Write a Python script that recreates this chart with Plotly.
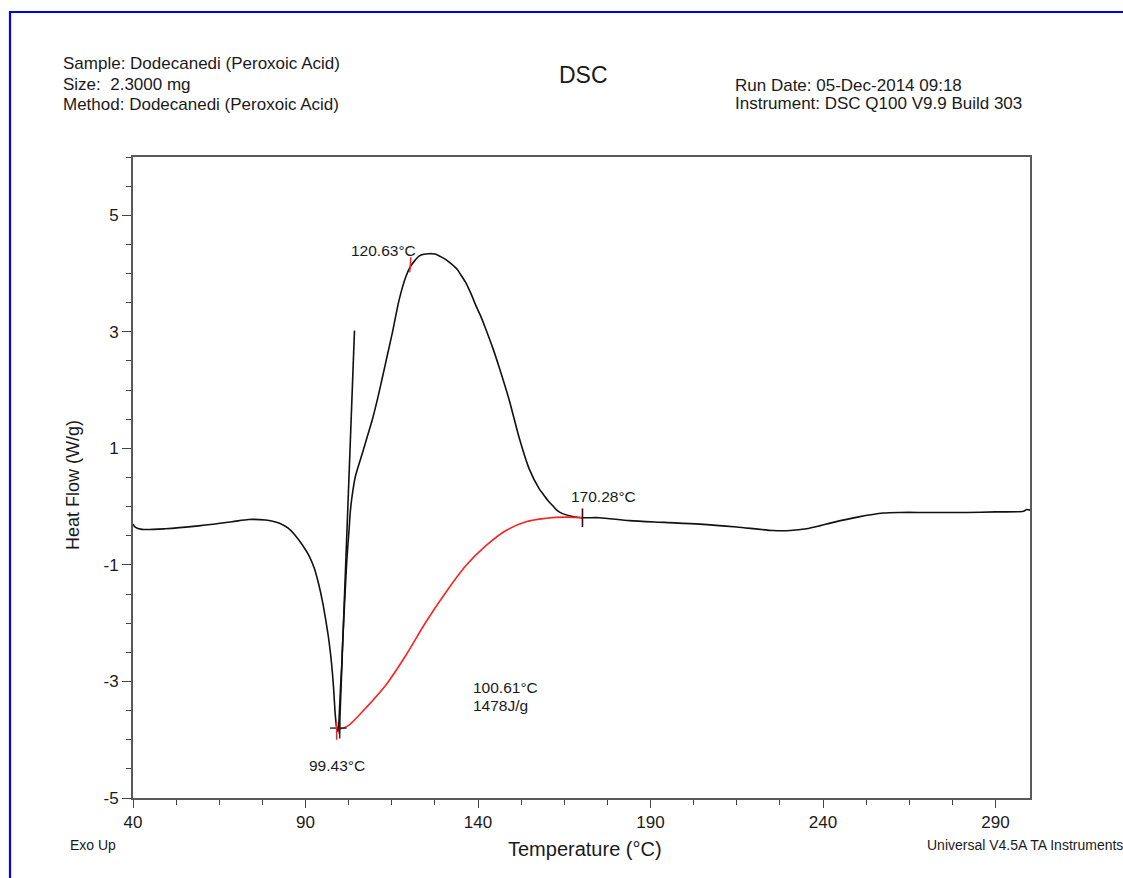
import plotly.graph_objects as go

# ---------------- data ----------------
temp = [40, 40.6, 42.6, 49.4, 59.0, 68.7, 73.5, 78.4, 80.5, 82.3, 85.0, 87.1, 89.0, 91.0,
        92.5, 93.9, 95.0, 95.8, 96.6, 97.3, 97.8, 98.2, 98.6, 99.0, 99.43, 99.8, 100.2,
        100.6, 100.65, 101.0, 101.5, 102.0, 102.6, 103.0, 103.5, 104.5, 106.5, 108.0,
        109.4, 111.0, 112.3, 113.8, 115.2, 117.1, 119.1, 120.5, 121.8, 122.9, 124.3, 125.8,
        126.8, 127.8, 129.2, 130.7, 132.2, 134.0, 135.0, 136.5, 138.0, 139.4, 141.0,
        142.3, 144.3, 146.2, 149.0, 152.0, 154.9, 157.8, 158.7, 160.2, 161.6, 163.0,
        164.5, 167.4, 170.2, 175.2, 183.9, 194.0, 204.2, 215.0, 225.5, 230.5, 235.2,
        239.0, 243.0, 250.0, 257.5, 262.3, 270.0, 281.7, 290.0, 298.1, 299.0, 300.0]
heat_flow = [-0.30, -0.35, -0.39, -0.38, -0.33, -0.26, -0.22, -0.23, -0.25, -0.28, -0.37,
             -0.50, -0.65, -0.84, -1.05, -1.35, -1.65, -1.92, -2.22, -2.55, -2.85, -3.17,
             -3.55, -3.78, -3.86, -3.55, -3.05, -2.62, -2.50, -2.05, -1.45, -0.90, -0.42,
             -0.08, 0.18, 0.53, 0.92, 1.22, 1.50, 1.88, 2.22, 2.62, 2.99, 3.54, 3.95, 4.13,
             4.23, 4.30, 4.33, 4.34, 4.34, 4.33, 4.29, 4.24, 4.17, 4.07, 3.98, 3.84, 3.65,
             3.45, 3.24, 3.04, 2.72, 2.38, 1.84, 1.17, 0.64, 0.30, 0.23, 0.11, 0.02, -0.07,
             -0.12, -0.17, -0.19, -0.19, -0.24, -0.27, -0.30, -0.35, -0.41, -0.41, -0.38,
             -0.33, -0.27, -0.18, -0.11, -0.10, -0.10, -0.10, -0.09, -0.08, -0.05, -0.06]

tangent_temp = [99.8, 104.2]
tangent_flow = [-3.90, 3.02]

base_temp = [99.6, 101.0, 102.6, 107.4, 113.3, 119.1, 124.9, 130.7, 136.5, 142.3, 148.1,
             153.9, 159.7, 165.5, 170.2]
base_flow = [-3.82, -3.80, -3.75, -3.46, -3.06, -2.55, -1.98, -1.47, -1.01, -0.67, -0.41,
             -0.26, -0.20, -0.18, -0.19]

peak_min_temp, peak_min_flow = 99.43, -3.80
peak_max_temp, peak_max_flow = 120.63, 4.15
end_temp, end_flow = 170.28, -0.19
onset_label = "100.61°C"
enthalpy_label = "1478J/g"

x_ticks = [40, 90, 140, 190, 240, 290]
y_ticks = [-5, -3, -1, 1, 3, 5]
y_tick_text = ["-5", "-3", "-1", "1", "3", "5"]

FONT = "Liberation Sans, Arial, sans-serif"

fig = go.Figure()
fig.add_trace(go.Scatter(x=temp, y=heat_flow, mode="lines",
                         line=dict(color="#111111", width=1.6, shape="spline", smoothing=0.7),
                         hoverinfo="skip"))
fig.add_trace(go.Scatter(x=tangent_temp, y=tangent_flow, mode="lines",
                         line=dict(color="#111111", width=1.6), hoverinfo="skip"))
fig.add_trace(go.Scatter(x=base_temp, y=base_flow, mode="lines",
                         line=dict(color="#ff2020", width=1.6, shape="spline", smoothing=1.0),
                         hoverinfo="skip"))

# event markers
fig.add_trace(go.Scatter(x=[peak_min_temp - 2.3, peak_min_temp + 2.5], y=[peak_min_flow, peak_min_flow],
                         mode="lines", line=dict(color="#222222", width=1.4), hoverinfo="skip"))
fig.add_trace(go.Scatter(x=[peak_min_temp + 0.5, peak_min_temp + 0.5], y=[peak_min_flow + 0.1, peak_min_flow - 0.18],
                         mode="lines", line=dict(color="#222222", width=1.4), hoverinfo="skip"))
fig.add_trace(go.Scatter(x=[peak_min_temp - 0.4, peak_min_temp - 0.4], y=[peak_min_flow + 0.1, peak_min_flow - 0.2],
                         mode="lines", line=dict(color="#ff2020", width=1.4), hoverinfo="skip"))
fig.add_trace(go.Scatter(x=[peak_max_temp - 0.4, peak_max_temp - 0.1], y=[peak_max_flow - 0.13, peak_max_flow + 0.13],
                         mode="lines", line=dict(color="#ff2020", width=1.4), hoverinfo="skip"))
fig.add_trace(go.Scatter(x=[end_temp, end_temp], y=[end_flow + 0.16, end_flow - 0.16],
                         mode="lines", line=dict(color="#3a0808", width=1.6), hoverinfo="skip"))

ann_font = dict(family=FONT, size=15.5, color="#1a1a1a")
annotations = [
    dict(x=112.5, y=4.40, xref="x", yref="y", text="120.63°C", showarrow=False, font=ann_font),
    dict(x=176.4, y=0.17, xref="x", yref="y", text="170.28°C", showarrow=False, font=ann_font),
    dict(x=99.1, y=-4.44, xref="x", yref="y", text="99.43°C", showarrow=False, font=ann_font),
    dict(x=138.0, y=-3.10, xref="x", yref="y", text=onset_label, showarrow=False, font=ann_font,
         xanchor="left"),
    dict(x=138.0, y=-3.41, xref="x", yref="y", text=enthalpy_label, showarrow=False, font=ann_font,
         xanchor="left"),
]

# page-level texts (paper coords from pixel positions)
L, T, W, H = 133, 157, 897, 641
def px(x):
    return (x - L) / W
def py(y):
    return (T + H - y) / H

hdr = dict(family=FONT, size=17, color="#1a1a1a")
for txt, x, y, anchor, f in [
    ("Sample: Dodecanedi (Peroxoic Acid)", 61, 64, "left", hdr),
    ("Size:  2.3000 mg", 61, 84, "left", hdr),
    ("Method: Dodecanedi (Peroxoic Acid)", 61, 104, "left", hdr),
    ("Run Date: 05-Dec-2014 09:18", 733, 85, "left", hdr),
    ("Instrument: DSC Q100 V9.9 Build 303", 733, 103, "left", hdr),
    ("DSC", 583, 75, "center", dict(family=FONT, size=23, color="#1a1a1a")),
    ("Exo Up", 68, 845, "left", dict(family=FONT, size=14, color="#1a1a1a")),
    ("Universal V4.5A TA Instruments", 925, 845, "left", dict(family=FONT, size=14, color="#1a1a1a")),
    ("Temperature (°C)", 585, 849, "center", dict(family=FONT, size=20, color="#1a1a1a")),
]:
    annotations.append(dict(x=px(x), y=py(y), xref="paper", yref="paper", text=txt,
                            showarrow=False, xanchor=anchor, yanchor="middle", font=f))
annotations.append(dict(x=px(73), y=py(485), xref="paper", yref="paper", text="Heat Flow (W/g)",
                        showarrow=False, textangle=-90, xanchor="center", yanchor="middle",
                        font=dict(family=FONT, size=18, color="#1a1a1a")))

shapes = [dict(type="rect", xref="paper", yref="paper",
               x0=px(10), x1=px(1130), y0=py(885), y1=py(12),
               line=dict(color="#0000ff", width=2.2), fillcolor="rgba(0,0,0,0)", layer="above")]

fig.update_layout(
    width=1123, height=878,
    margin=dict(l=L, r=1123 - L - W, t=T, b=878 - T - H),
    paper_bgcolor="white", plot_bgcolor="white",
    showlegend=False,
    annotations=annotations,
    shapes=shapes,
    font=dict(family=FONT, color="#1a1a1a"),
)
fig.update_xaxes(range=[40, 300], tickvals=x_ticks, ticks="outside", ticklen=8, tickwidth=1.4,
                 tickcolor="#444", showgrid=False, zeroline=False, showline=True, linecolor="#5a5a5a",
                 linewidth=2, mirror=True, tickfont=dict(family=FONT, size=17, color="#1a1a1a"),
                 minor=dict(tick0=40, dtick=12.5, ticks="outside", ticklen=5, tickwidth=1.2,
                            tickcolor="#444", showgrid=False))
fig.update_yaxes(range=[-5, 6], tickvals=y_ticks, ticktext=y_tick_text, ticks="outside", ticklen=9,
                 tickwidth=1.4, tickcolor="#444", showgrid=False, zeroline=False, showline=True,
                 linecolor="#5a5a5a", linewidth=2, mirror=True,
                 tickfont=dict(family=FONT, size=17, color="#1a1a1a"),
                 minor=dict(tick0=-5, dtick=0.5, ticks="outside", ticklen=5, tickwidth=1.2,
                            tickcolor="#444", showgrid=False))

fig.write_html("out.html")
